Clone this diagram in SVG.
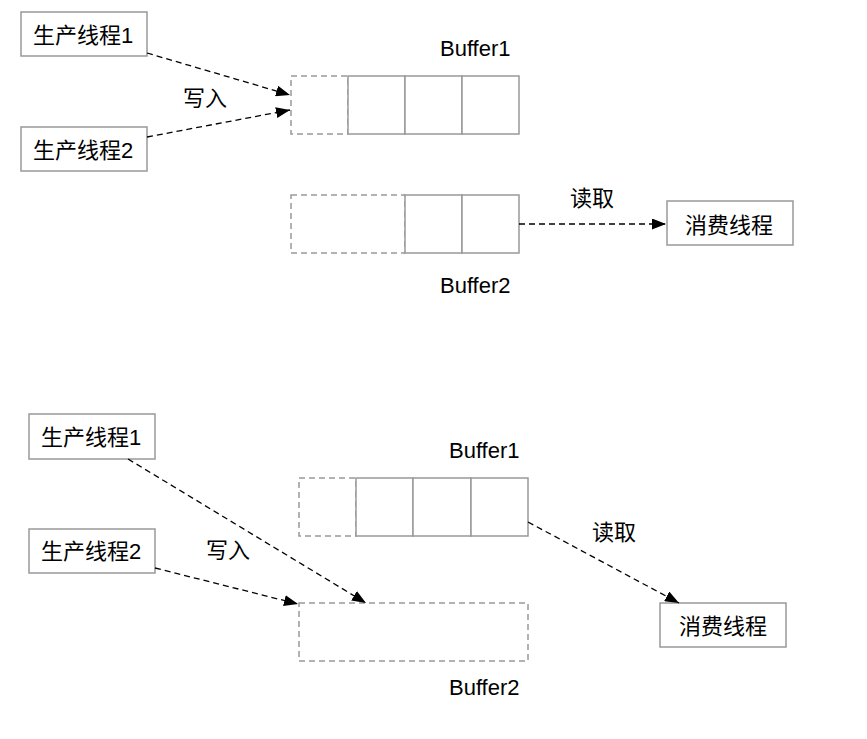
<svg xmlns="http://www.w3.org/2000/svg" width="867" height="739" viewBox="0 0 867 739">
<style>
.bg{fill:#ffffff}
.box{fill:#ffffff;stroke:#999999;stroke-width:1.5}
.cell{fill:#ffffff;stroke:#999999;stroke-width:1.5}
.dcell{fill:none;stroke:#999999;stroke-width:1.5;stroke-dasharray:6 4}
.conn{fill:none;stroke:#000000;stroke-width:1.3;stroke-dasharray:6 4}
.t{font-family:"Liberation Sans","Noto Sans CJK SC",sans-serif;font-size:22px;fill:#000000}
.tm{text-anchor:middle}
</style>
<defs>
<marker id="arr" markerUnits="userSpaceOnUse" markerWidth="15" markerHeight="11" refX="14" refY="5.5" orient="auto">
<path d="M0,0 L14,5.5 L0,11 z" fill="#000000"/>
</marker>
</defs>
<rect class="bg" x="0" y="0" width="867" height="739"/>

<!-- Top section -->
<g id="p1-top"><rect class="box" x="21" y="12" width="126" height="44"/><text class="t tm" x="83" y="43">生产线程1</text></g>
<g id="p2-top"><rect class="box" x="21" y="127" width="126" height="44"/><text class="t tm" x="83" y="158">生产线程2</text></g>
<g id="buffer1-top">
<rect class="dcell" x="291" y="76" width="57" height="58"/>
<rect class="cell" x="348" y="76" width="57" height="58"/>
<rect class="cell" x="405" y="76" width="57" height="58"/>
<rect class="cell" x="462" y="76" width="57" height="58"/>
<text class="t" x="440" y="56">Buffer1</text>
</g>
<g id="buffer2-top">
<rect class="dcell" x="291" y="195" width="114" height="58"/>
<rect class="cell" x="405" y="195" width="57" height="58"/>
<rect class="cell" x="462" y="195" width="57" height="58"/>
<text class="t" x="440" y="293">Buffer2</text>
</g>
<g id="consumer-top"><rect class="box" x="667" y="201" width="126" height="44"/><text class="t tm" x="729" y="233">消费线程</text></g>

<!-- Bottom section -->
<g id="p1-bottom"><rect class="box" x="29" y="414" width="126" height="45"/><text class="t tm" x="91" y="445">生产线程1</text></g>
<g id="p2-bottom"><rect class="box" x="29" y="529" width="126" height="44"/><text class="t tm" x="91" y="559">生产线程2</text></g>
<g id="buffer1-bottom">
<rect class="dcell" x="299" y="478" width="57" height="58"/>
<rect class="cell" x="356" y="478" width="57" height="58"/>
<rect class="cell" x="413" y="478" width="58" height="58"/>
<rect class="cell" x="471" y="478" width="57" height="58"/>
<text class="t" x="449" y="458">Buffer1</text>
</g>
<g id="buffer2-bottom">
<rect class="dcell" x="299" y="603" width="229" height="58"/>
<text class="t" x="449" y="695">Buffer2</text>
</g>
<g id="consumer-bottom"><rect class="box" x="660" y="603" width="126" height="44"/><text class="t tm" x="723" y="634">消费线程</text></g>

<!-- Connectors -->
<g id="connectors">
<line class="conn" x1="147" y1="53" x2="290" y2="95" marker-end="url(#arr)"/>
<line class="conn" x1="147" y1="137" x2="290" y2="110" marker-end="url(#arr)"/>
<line class="conn" x1="519" y1="224" x2="666" y2="224" marker-end="url(#arr)"/>
<line class="conn" x1="128" y1="459" x2="366" y2="603" marker-end="url(#arr)"/>
<line class="conn" x1="155" y1="568" x2="298" y2="604" marker-end="url(#arr)"/>
<line class="conn" x1="528" y1="522" x2="679" y2="603" marker-end="url(#arr)"/>
</g>

<!-- Labels -->
<g id="labels">
<text class="t tm" x="205" y="106">写入</text>
<text class="t tm" x="592" y="206">读取</text>
<text class="t tm" x="228" y="558">写入</text>
<text class="t tm" x="614" y="540">读取</text>
</g>
</svg>
